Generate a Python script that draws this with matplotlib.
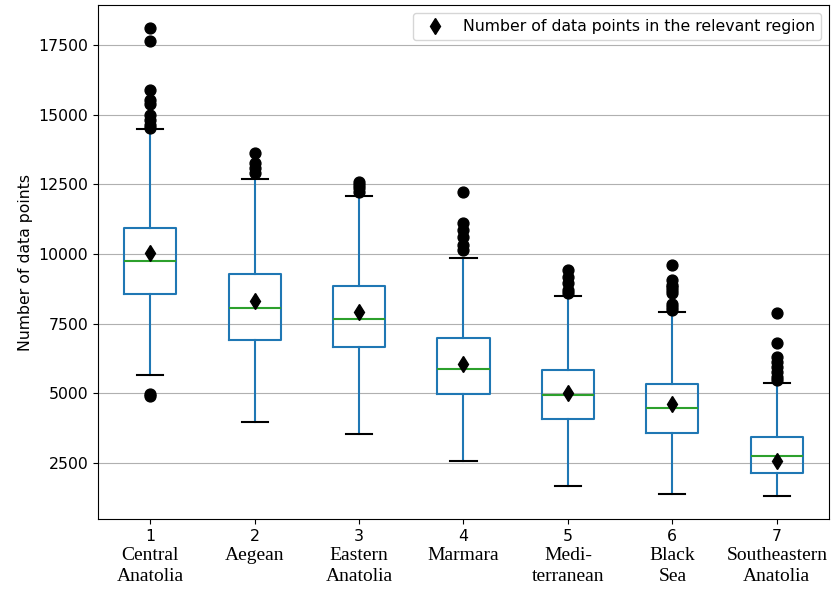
import numpy as np
import matplotlib.pyplot as plt

# box statistics
regions = ['Central\nAnatolia', 'Aegean', 'Eastern\nAnatolia', 'Marmara',
           'Medi-\nterranean', 'Black\nSea', 'Southeastern\nAnatolia']
ticks = ['1', '2', '3', '4', '5', '6', '7']
q1 = [8565, 6925, 6673, 4976, 4079, 3577, 2152]
med = [9749, 8074, 7667, 5862, 4929, 4491, 2740]
q3 = [10922, 9293, 8863, 6975, 5848, 5324, 3444]
whislo = [5647, 3960, 3551, 2561, 1686, 1377, 1316]
whishi = [14475, 12691, 12093, 9845, 8493, 7907, 5382]
means = [10025, 8324, 7907, 6042, 5023, 4610, 2583]
fliers = [
    [18100, 17655, 15885, 15525, 15380, 14990, 14810, 14630, 14520, 4900, 4960],
    [13635, 13255, 13075, 12920],
    [12594, 12476, 12357, 12236],
    [12236, 11123, 10861, 10621, 10323, 10143],
    [9426, 9186, 8949, 8708, 8590],
    [9600, 9050, 8900, 8800, 8700, 8600, 8200, 8100, 8000],
    [7883, 6817, 6315, 6135, 5956, 5776, 5597, 5478],
]

stats = []
for i in range(len(ticks)):
    stats.append(dict(q1=q1[i], med=med[i], q3=q3[i], whislo=whislo[i],
                      whishi=whishi[i], mean=means[i], fliers=fliers[i]))

fig = plt.figure(figsize=(8.33, 5.90), dpi=100)
ax = fig.add_axes([0.1176, 0.1203, 0.8776, 0.8712])

res = ax.bxp(stats, positions=range(1, 8), widths=0.5, showmeans=True,
             boxprops=dict(color='C0', linewidth=1.5),
             whiskerprops=dict(color='C0', linewidth=1.5),
             capprops=dict(color='black', linewidth=1.5),
             medianprops=dict(color='C2', linewidth=1.5),
             meanprops=dict(marker='d', markerfacecolor='black',
                            markeredgecolor='black', markersize=8),
             flierprops=dict(marker='o', markerfacecolor='black',
                             markeredgecolor='black', markersize=7.8))

ax.set_xlim(0.5, 7.5)
ax.set_ylim(490, 18935)
ax.set_xticks(range(1, 8))
ax.set_xticklabels(ticks)
ax.set_yticks([2500, 5000, 7500, 10000, 12500, 15000, 17500])
ax.tick_params(labelsize=11.3)
ax.yaxis.grid(True, color='#b0b0b0', linewidth=0.8)
ax.set_axisbelow(True)
ax.set_ylabel('Number of data points', fontsize=11.3)

# region names under the tick numbers
for i, name in enumerate(regions):
    ax.text(i + 1, -0.055, name, transform=ax.get_xaxis_transform(),
            ha='center', va='top', fontsize=14, family='Liberation Serif',
            linespacing=1.3)

ax.legend([res['means'][0]], ['Number of data points in the relevant region'],
          loc='upper right', fontsize=11.3)

plt.savefig('out.png', dpi=100)
